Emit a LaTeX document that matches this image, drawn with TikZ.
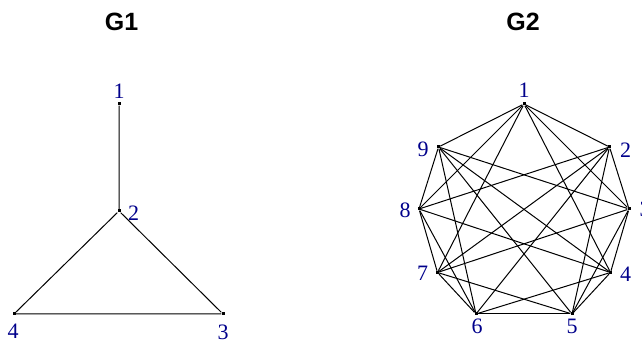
\documentclass[tikz,border=0pt]{standalone}
\usepackage{fontspec}
\setmainfont{Liberation Serif}
\newfontfamily\titlefont{Liberation Sans}
\usepackage{tikz}
\usetikzlibrary{calc}
\definecolor{labelblue}{RGB}{0,0,139}

\begin{document}
\begin{tikzpicture}[x=1pt, y=1pt,
    vtx/.style={fill=black, inner sep=0pt, minimum size=3pt},
    vlab/.style={text=labelblue, font=\fontsize{22}{22}\selectfont, inner sep=0pt},
    gtitle/.style={font=\titlefont\bfseries\fontsize{25}{25}\selectfont},
    edge/.style={line width=1pt}]
  \useasboundingbox (0,0) rectangle (642,344);

  % --- G1 ---
  \node[gtitle] (t1) at (121.5,322) {G1};
  \node[vtx] (a1) at (119,240) {};
  \node[vtx] (a2) at (119,133) {};
  \node[vtx] (a3) at (223,30) {};
  \node[vtx] (a4) at (14,30) {};
  \draw[edge] (a1) -- (a2) (a2) -- (a3) (a2) -- (a4) (a4) -- (a3);
  \foreach \i/\dx/\dy in {1/0/12.5, 2/14.5/-2.5, 3/0/-18, 4/-1/-17}
    \node[vlab] (la\i) at ($(a\i)+(\dx,\dy)$) {\i};

  % --- G2 ---
  \node[gtitle] (t2) at (523,322) {G2};
  \foreach \i/\x/\y in {1/524/240, 2/609.5/197, 3/629/135, 4/610.5/71.5, 5/572/30,
                        6/476/30, 7/437.5/71.5, 8/419/135, 9/438.5/197}
    \node[vtx] (b\i) at (\x,\y) {};
  \foreach \u/\v in {1/2,1/3,1/4,1/7,1/8,1/9, 2/3,2/5,2/6,2/7,2/8,
                     3/4,3/5,3/7,3/9, 4/5,4/6,4/8,4/9, 5/6,5/7,5/9,
                     6/7,6/8,6/9, 7/8, 8/9}
    \draw[edge] (b\u) -- (b\v);
  \foreach \i/\dx/\dy in {1/0/13.5, 2/16/-3, 3/16/0, 4/15/-2, 5/0/-12,
                          6/1/-12, 7/-15/-1, 8/-14/-1, 9/-15.5/-2}
    \node[vlab] (lb\i) at ($(b\i)+(\dx,\dy)$) {\i};
\end{tikzpicture}
\end{document}
